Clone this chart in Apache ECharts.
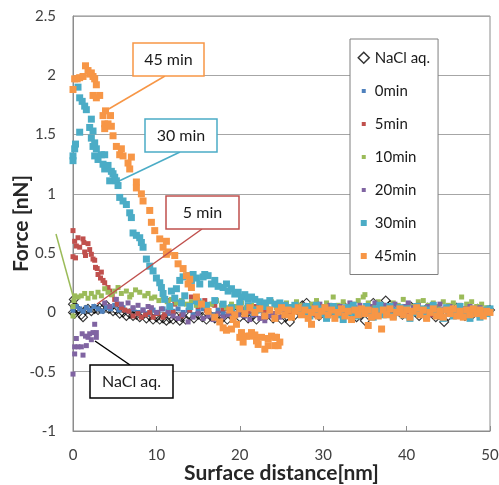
<!DOCTYPE html>
<html>
<head>
<meta charset="utf-8">
<script src="https://cdn.jsdelivr.net/npm/echarts@6/dist/echarts.min.js"></script>
<style>
html,body{margin:0;padding:0;background:#fff;}
#chart{width:499px;height:485px;}
</style>
</head>
<body>
<div id="chart"></div>
<script>
// ---- data (x: surface distance [nm], y: force [nN]) ----
const seriesNames = ['NaCl aq.', '0min', '5min', '10min', '20min', '30min', '45min'];

const naclData = [
[0,0.07],[0,0.0],[0.1,0.11],[0.2,-0.01],[0.3,0.04],[0.6,0.02],[1.0,-0.02],[1.2,-0.04],[1.5,0.02],[1.8,0.03],
[2.2,0.01],[2.6,0.03],[3.0,0.02],[3.2,0.04],[3.6,0.03],[4.0,0.06],[4.3,0.03],[4.8,0.01],[5.2,0.02],[5.6,-0.01],
[6.0,0.0],[6.4,-0.03],[6.8,-0.01],[7.2,-0.03],[7.6,-0.02],[8.0,-0.04],[8.4,-0.02],[8.8,-0.05],[9.2,-0.03],[9.6,-0.06],
[10.0,-0.04],[10.4,-0.06],[10.8,-0.05],[11.2,-0.07],[11.6,-0.05],[12.0,-0.06],[12.4,-0.04],[12.8,-0.07],
[13.0,-0.04],[13.5,-0.06],[14,-0.03],[14.5,-0.05],[15,-0.02],[15.5,-0.04],[16,-0.06],[16.5,-0.03],[17,-0.05],[17.5,-0.02],
[18,-0.04],[18.5,-0.06],[19,-0.03],[19.5,-0.01],[20,-0.04],[20.5,-0.02],[21,-0.05],[21.5,-0.03],[22,-0.06],[22.5,-0.02],
[23,-0.04],[23.5,-0.01],[24,-0.05],[24.5,-0.03],[25,-0.06],[25.5,-0.04],[26,-0.08],[26.5,-0.03],[27,0.02],[27.5,0.06],
[28,0.08],[28.5,0.03],[29,0.0],[29.5,-0.03],[30,0.01],[30.5,0.04],[31,0.02],[31.5,-0.02],[32,0.01],[32.5,0.05],
[33,0.02],[33.5,-0.01],[34,-0.04],[34.5,-0.02],[35,-0.07],[35.5,0.03],[36,0.08],[36.5,0.05],[37,0.02],[37.5,0.1],
[38,0.06],[38.5,0.03],[39,0.01],[39.5,-0.02],[40,0.02],[40.5,0.05],[41,0.01],[41.5,-0.03],[42,0.0],[42.5,0.04],
[43,0.01],[43.5,-0.04],[44,-0.02],[44.5,-0.08],[45,-0.03],[45.5,0.01],[46,0.04],[46.5,0.0],[47,-0.03],[47.5,0.02],
[48,-0.01],[48.5,0.03],[49,-0.02],[49.5,0.01],[50,0.02]
];

const min0Data = [
[0,0.02],[0.4,0.05],[0.8,0.03],[1.2,0.01],[1.6,0.04],[2.0,0.02],[2.5,0.05],[3.0,0.03],[3.5,0.01],[4.0,0.04],
[4.5,0.03],[5.0,0.06],[5.5,0.02],[6.0,0.04],[6.6,0.01],[7.2,0.03],[7.8,0.0],[8.4,0.02],[9.0,-0.01],[9.6,0.02],
[10.2,0.0],[10.8,0.03],[11.4,-0.01],[12.0,0.01],[12.6,0.03],[13.2,0.0],[13.8,0.02],[14.4,-0.02],[15.0,0.01],[15.6,0.03],
[16.2,0.0],[16.8,-0.02],[17.4,0.02],[18.0,0.0],[18.6,0.03],[19.2,-0.01],[19.8,0.01],[20.4,0.03],[21.0,0.0],[21.6,-0.02],
[22.2,0.02],[22.8,0.0],[23.4,0.03],[24.0,-0.01],[24.6,0.01],[25.2,0.03],[25.8,-0.02],[26.4,0.01],[27.0,0.03],[27.6,0.0],
[28.2,-0.02],[28.8,0.02],[29.4,0.04],[30.0,0.0],[30.6,-0.03],[31.2,0.01],[31.8,0.03],[32.4,-0.01],[33.0,0.02],[33.6,0.0],
[34.2,-0.03],[34.8,0.02],[35.4,0.04],[36.0,0.0],[36.6,-0.02],[37.2,0.02],[37.8,0.0],[38.4,0.03],[39.0,-0.01],[39.6,0.01],
[40.2,-0.03],[40.8,0.02],[41.4,0.0],[42.0,0.03],[42.6,-0.02],[43.2,0.01],[43.8,-0.01],[44.4,0.02],[45.0,0.0],[45.6,-0.03],
[46.2,0.01],[46.8,0.03],[47.4,-0.01],[48.0,0.02],[48.6,-0.02],[49.2,0.01],[49.8,0.0]
];

const min5Data = [
[0,0.69],[0,0.47],[0.2,0.6],[0.3,0.46],[0.4,0.56],[0.6,0.63],[0.8,0.55],[1.2,0.62],[1.3,0.59],[1.4,0.51],
[1.5,0.48],[1.8,0.58],[2.0,0.53],[2.2,0.49],[2.4,0.45],[2.6,0.44],[2.7,0.38],[2.9,0.37],[3.0,0.32],[3.3,0.29],
[3.4,0.34],[3.6,0.27],[3.8,0.25],[4.2,0.21],[4.4,0.18],[4.7,0.15],[5.0,0.11],[5.3,0.07],[5.8,0.04],[6.2,0.02],
[6.7,0.01],[7.2,-0.03],[7.8,-0.01],[8.2,-0.04],[8.7,-0.02],[9.2,0.0],[9.6,-0.04],[10.1,-0.01],[10.8,-0.04],
[11.4,0.1],[12.2,0.07],[14.2,0.13],[15.8,0.1],[16.8,0.07],
[11.0,-0.02],[12.0,0.0],[13.0,-0.03],[14.0,0.02],[15.0,0.05],[16.0,0.02],[17.0,0.06],[18.0,0.03],[19.0,0.0],[20.0,0.04],
[21.0,0.01],[22.0,0.05],[23.0,0.02],[24.0,-0.01],[25.0,0.03],[26,0.0],[27,0.04],[28,0.01],[29,-0.02],[30,0.03],
[31,0.0],[32,0.04],[33,0.01],[34,-0.02],[35,0.02],[36,0.05],[37,0.01],[38,-0.01],[39,0.03],[40,0.0],
[41,0.04],[42,0.01],[43,-0.02],[44,0.02],[45,0.05],[46,0.0],[47,0.03],[48,-0.01],[49,0.02],[50,0.0]
];

const min10Data = [
[0,-0.03],[0,0.05],[0.1,0.1],[0.2,0.14],[0.6,0.13],[1.0,0.14],[1.4,0.16],[1.8,0.12],[2.2,0.16],[2.6,0.13],
[3.0,0.17],[3.4,0.14],[3.8,0.2],[4.2,0.17],[4.6,0.15],[5.0,0.18],[5.4,0.21],[5.8,0.16],[6.4,0.18],[6.8,0.13],
[7.0,0.15],[7.5,0.19],[8.0,0.17],[8.6,0.14],[9.0,0.16],[9.4,0.12],[9.8,0.13],[10.3,0.1],[10.8,0.13],[11.3,0.09],
[11.8,0.11],[12.4,0.08],[13.0,0.1],[13.6,0.07],[14.2,0.09],[14.8,0.06],[15.4,0.08],[16.0,0.05],[16.6,0.07],[17.2,0.1],
[17.8,0.06],[18.4,0.04],[19.0,0.07],[19.6,0.05],[20.2,0.08],[20.8,0.04],[21.4,0.06],[22.0,0.03],[22.6,0.07],[23.2,0.05],
[23.8,0.09],[24.4,0.04],[25.0,0.06],[25.6,0.08],[26.2,0.05],[26.8,0.09],[27.4,0.06],[28.0,0.04],[28.6,0.07],[29.2,0.1],
[29.8,0.05],[30.4,0.08],[31.2,0.13],[31.8,0.06],[32.4,0.09],[33.0,0.05],[33.6,0.07],[34.2,0.1],[34.8,0.13],[35.0,0.15],
[35.4,0.08],[36.0,0.05],[36.6,0.09],[37.2,0.06],[37.8,0.04],[38.4,0.08],[39.0,0.06],[39.6,0.11],[40.2,0.07],[40.8,0.05],
[41.4,0.09],[42.0,0.1],[42.6,0.06],[43.2,0.08],[43.8,0.05],[44.4,0.09],[45.0,0.06],[45.6,0.08],[46.2,0.05],[46.6,0.13],
[47.2,0.07],[47.8,0.09],[48.4,0.05],[49.0,0.07],[49.6,0.04]
];

const min20Data = [
[0,-0.52],[0.2,-0.35],[0.2,-0.29],[0.4,-0.22],[0.6,-0.29],[1.0,-0.29],[1.1,-0.18],[1.2,-0.36],[1.5,-0.2],[1.6,-0.28],
[1.8,-0.21],[2.0,-0.18],[2.2,-0.23],[2.4,-0.17],[2.6,-0.1],[2.8,-0.17],[2.8,-0.21],
[3.8,0.08],[4.4,0.05],[5.2,0.11],[5.8,0.07],[6.6,0.08],[7.2,0.04],[7.8,0.06],[8.4,0.02],[9.0,0.05],[9.4,0.04],
[10.0,0.0],[10.6,0.03],[11.4,0.01],[12.0,-0.03],[12.6,-0.05],[13.2,-0.02],[13.8,-0.08],[14.4,-0.04],[15.0,-0.01],[15.6,-0.05],
[16.2,-0.03],[16.8,-0.06],[17.4,-0.01],[18.0,-0.04],[18.6,-0.02],[19.2,-0.05],[19.8,-0.02],[20.6,-0.03],[21.2,-0.06],[21.8,-0.02],
[22.4,-0.05],[23.0,-0.07],[23.6,-0.03],[24.2,-0.01],[24.8,-0.04],[25.4,0.0],[26.0,0.03],[26.6,0.05],[27.2,0.02],[27.8,0.06],
[28.4,0.03],[29.0,0.05],[29.6,0.07],[30.2,0.03],[30.8,0.06],[31.4,0.02],[32.0,0.05],[32.6,0.03],[33.2,0.08],[33.8,0.04],
[34.4,0.06],[35.0,0.02],[35.6,0.05],[36.2,0.08],[36.8,0.03],[37.4,0.06],[38.0,0.04],[38.6,0.07],[39.2,0.03],[39.8,0.05],
[40.2,0.08],[40.8,0.04],[41.4,0.06],[42.0,0.02],[42.6,0.05],[43.4,0.04],[44.0,0.07],[44.6,0.03],[45.2,0.05],[45.8,0.02],
[46.4,0.06],[47.0,0.03],[47.6,0.05],[48.2,0.02],[48.8,0.04],[49.4,0.01],[50.0,0.03]
];

const min30Data = [
[0,1.28],[0,1.32],[0.2,1.38],[0.3,1.42],[0.6,1.9],[0.8,1.81],[0.8,1.52],[1.1,1.78],[1.4,1.74],[1.6,1.71],
[2.0,1.56],[2.2,1.63],[2.2,1.47],[2.4,1.53],[2.4,1.4],[2.6,1.43],[2.6,1.32],[2.8,1.38],[3.0,1.29],[3.4,1.33],
[3.6,1.25],[3.8,1.33],[3.8,1.21],[4.2,1.24],[4.4,1.11],[4.6,1.19],[4.8,1.17],[5.0,1.14],[5.2,1.11],[5.4,1.07],
[5.6,0.97],[6.0,0.94],[6.4,0.91],[6.8,0.84],[7.0,0.8],[7.2,0.67],[7.6,0.65],[8.0,0.63],[8.2,0.59],[8.4,0.55],
[8.8,0.45],[9.2,0.39],[9.6,0.35],[10.0,0.29],[10.4,0.25],[10.6,0.21],[10.8,0.16],[11.0,0.11],
[11.8,0.18],[12.4,0.2],[12.8,0.27],[13.2,0.3],[13.4,0.14],[13.8,0.31],[14.2,0.27],[14.4,0.32],[14.8,0.29],[14.8,0.1],
[15.2,0.24],[15.6,0.3],[15.8,0.32],[16.2,0.31],[16.6,0.24],[17.0,0.27],[17.4,0.22],[18.0,0.21],[18.4,0.24],[18.6,0.18],
[19.0,0.2],[19.4,0.155],[19.8,0.17],[20.2,0.13],[20.6,0.15],[21.0,0.11],[21.4,0.13],[21.8,0.11],[22.4,0.09],[23.0,0.08],
[23.6,0.1],[24.2,0.07],[24.8,0.08],[25.4,0.06],[26.0,0.04],[26.6,0.06],[27.2,0.03],
[11.6,0.05],[12.2,0.12],[13.0,0.08],[14.0,0.05],[15.0,0.09],[16.0,0.06],[17.0,0.1],[18.0,0.07],[19.0,0.04],[20.0,0.08],
[21.0,0.05],[22.0,0.02],[23.0,0.05],
[27.6,0.0],[28.0,0.05],[28.4,-0.03],[28.8,0.02],[29.2,0.06],[29.6,-0.01],[30.0,0.03],[30.4,-0.05],[30.8,0.01],[31.2,0.05],
[31.6,-0.02],[32.0,0.02],[32.4,-0.06],[32.8,0.04],[33.2,0.0],[33.6,0.06],[34.0,-0.03],[34.4,0.02],[34.8,-0.01],[35.2,0.05],
[35.6,0.0],[36.0,-0.04],[36.4,0.03],[36.8,0.06],[37.2,-0.02],[37.6,0.02],[38.0,0.05],[38.4,-0.03],[38.8,0.01],[39.2,0.04],
[39.6,-0.02],[40.0,0.03],[40.4,-0.05],[40.8,0.0],[41.2,0.05],[41.6,-0.01],[42.0,0.03],[42.4,-0.04],[42.8,0.02],[43.2,0.06],
[43.6,-0.02],[44.0,0.01],[44.4,-0.05],[44.8,0.04],[45.2,0.0],[45.6,-0.03],[46.0,0.02],[46.4,0.05],[46.8,-0.02],[47.2,0.01],
[47.6,-0.05],[48.0,0.03],[48.4,0.0],[48.8,-0.04],[49.2,0.02],[49.6,-0.01],[50.0,0.03]
];

const min45Data = [
[0,1.88],[0.2,1.97],[0.5,1.97],[0.8,1.98],[1.2,1.99],[1.5,2.08],[1.8,2.04],[2.0,2.01],[2.2,2.02],[2.4,1.99],
[2.6,1.97],[2.8,1.92],[2.4,1.83],[2.8,1.81],[3.2,1.83],[3.6,1.66],[3.9,1.7],[4.5,1.66],[3.8,1.59],[4.2,1.59],
[3.8,1.55],[4.6,1.57],[4.8,1.49],[5.2,1.4],[5.6,1.33],[5.8,1.38],[6.0,1.32],[6.6,1.26],[7.0,1.31],[6.8,1.21],
[7.6,1.1],[7.6,1.05],[8.2,1.0],[8.4,0.94],[9.2,0.86],[9.4,0.76],[9.8,0.69],[10.4,0.62],[10.8,0.55],[11.2,0.6],
[11.2,0.49],[11.4,0.51],[12.2,0.48],[12.6,0.41],[13.2,0.37],[13.6,0.31],[14.0,0.28],[13.8,0.24],[14.2,0.21],[14.8,0.13],
[15.4,0.07],[16.2,0.01],[17.0,-0.04],[17.6,-0.08],[18.0,-0.13],[18.4,-0.15],[19.0,-0.14],[19.2,-0.06],[19.6,-0.1],
[20.0,-0.21],[20.2,-0.17],[20.4,-0.25],[20.8,-0.2],[21.2,-0.2],[21.4,-0.17],[21.8,-0.19],[22.0,-0.24],[22.2,-0.27],[22.6,-0.21],
[23.0,-0.31],[23.4,-0.28],[23.4,-0.22],[23.8,-0.2],[24.2,-0.28],[24.2,-0.21],[24.6,-0.28],[24.4,-0.21],[24.8,-0.25],
[18.8,0.02],[19.4,-0.02],[20.0,0.03],[20.6,-0.01],[21.2,0.04],[21.8,0.0],[22.4,0.03],[23.0,-0.03],[23.6,0.02],[24.2,-0.05],
[24.6,0.01],[25.0,0.04],[25.4,-0.02],[25.8,0.02],[26.2,-0.04],[26.6,0.01],[27.0,0.04],[27.4,-0.02],[27.8,0.02],[28.2,-0.05],
[28.6,0.0],[28.6,-0.1],[29.0,0.03],[29.4,-0.03],[29.8,0.01],[30.2,0.04],[30.6,-0.02],[31.0,0.02],[31.4,-0.05],[31.8,0.0],
[32.2,0.03],[32.6,-0.03],[33.0,0.01],[33.4,-0.06],[33.8,0.02],[34.2,-0.02],[34.6,0.03],[35.0,-0.01],[35.4,0.02],[35.4,-0.11],
[35.8,-0.04],[36.2,0.01],[36.6,-0.03],[37.0,-0.14],[37.2,0.02],[37.6,-0.02],[38.0,0.03],[38.4,-0.04],[38.8,0.0],[39.2,0.03],
[39.6,-0.02],[40.0,0.02],[40.4,-0.04],[40.8,0.01],[41.2,0.04],[41.6,-0.02],[42.0,0.02],[42.4,-0.05],[42.8,0.0],[43.2,0.03],
[43.6,-0.03],[44.0,0.01],[44.4,-0.04],[44.8,0.02],[45.2,-0.01],[45.6,0.03],[46.0,-0.03],[46.4,0.01],[46.8,-0.04],[47.2,0.02],
[47.6,-0.02],[48.0,0.03],[48.4,-0.01],[48.8,0.02],[49.2,-0.03],[49.6,0.01],[50.0,0.0]
];

const seriesData = [naclData, min0Data, min5Data, min10Data, min20Data, min30Data, min45Data];
const seriesColors = ['#000000', '#4F81BD', '#C0504D', '#9BBB59', '#8064A2', '#4BACC6', '#F79646'];
const markerSizes = [9, 5, 5, 5, 5, 7, 7];

const FONT = 'Lato, "Open Sans", sans-serif';

const chart = echarts.init(document.getElementById('chart'), null, {renderer: 'canvas'});

const series = seriesNames.map((name, i) => {
  const isNacl = i === 0;
  return {
    name: name,
    type: 'scatter',
    data: seriesData[i],
    symbol: isNacl ? 'diamond' : 'rect',
    symbolSize: markerSizes[i],
    itemStyle: isNacl
      ? {color: 'rgba(255,255,255,0)', borderColor: '#000', borderWidth: 1.1}
      : {color: seriesColors[i], opacity: 1},
    emphasis: {disabled: true},
    z: 2 + i
  };
});

const smallSq = 'path://M0,0 M12,14 M4,5 L8,5 L8,9 L4,9 Z';
const bigSq = 'path://M0,0 M12,14 M3,4 L9,4 L9,10 L3,10 Z';
const diamondIcon = 'path://M0,0 M12,14 M6,1.5 L11.5,7 L6,12.5 L0.5,7 Z';

const legendData = seriesNames.map((name, i) => {
  if (i === 0) {
    return {name: name, icon: diamondIcon,
      itemStyle: {color: '#fff', borderColor: '#000', borderWidth: 1.5}};
  }
  return {name: name, icon: i >= 5 ? bigSq : smallSq,
    itemStyle: {color: seriesColors[i], borderWidth: 0}};
});

const option = {
  animation: false,
  backgroundColor: '#ffffff',
  grid: {left: 73, right: 9, top: 16, bottom: 54, show: true,
    containLabel: false, outerBoundsMode: 'none',
    borderColor: '#8c8c8c', borderWidth: 1, backgroundColor: 'transparent'},
  xAxis: {
    type: 'value', min: 0, max: 50, interval: 10,
    axisLine: {show: true, onZero: false, lineStyle: {color: '#8c8c8c', width: 1}},
    axisTick: {show: true, inside: true, length: 5, lineStyle: {color: '#8c8c8c'}},
    splitLine: {show: false},
    axisLabel: {fontSize: 15, color: '#404040', margin: 17, fontFamily: FONT},
    name: 'Surface distance[nm]', nameLocation: 'middle', nameGap: 32, nameMoveOverlap: false,
    nameTextStyle: {fontSize: 21, fontWeight: 'bold', color: '#262626', fontFamily: FONT}
  },
  yAxis: {
    type: 'value', min: -1, max: 2.5, interval: 0.5,
    axisLine: {show: true, onZero: false, lineStyle: {color: '#8c8c8c', width: 1}},
    axisTick: {show: false},
    splitLine: {show: true, lineStyle: {color: '#a6a6a6', width: 1}},
    axisLabel: {fontSize: 15, color: '#404040', margin: 17, fontFamily: FONT},
    name: 'Force [nN]', nameLocation: 'middle', nameGap: 41, nameRotate: 90, nameMoveOverlap: false,
    nameTextStyle: {fontSize: 21, fontWeight: 'bold', color: '#262626', fontFamily: FONT}
  },
  legend: {
    orient: 'vertical', left: 350, top: 39,
    padding: [11, 8, 11, 7], itemGap: 18, itemWidth: 12, itemHeight: 14,
    backgroundColor: '#ffffff', borderColor: '#7f7f7f', borderWidth: 1,
    selectedMode: false,
    textStyle: {fontSize: 15, color: '#1a1a1a', fontFamily: FONT, lineHeight: 14},
    data: legendData
  },
  series: series
};

chart.setOption(option);

// ---- annotation call-outs (boxes + leader lines) ----
function callout(text, color, box, from, to) {
  return [
    {type: 'line', z: 100, shape: {x1: from[0], y1: from[1], x2: to[0], y2: to[1]},
      style: {stroke: color, lineWidth: 1.5}},
    {type: 'rect', z: 101, shape: {x: box[0], y: box[1], width: box[2], height: box[3]},
      style: {fill: '#ffffff', stroke: color, lineWidth: 1.5}},
    {type: 'text', z: 102, x: box[0] + box[2] / 2, y: box[1] + box[3] / 2,
      style: {text: text, fill: '#1a1a1a', font: '16px ' + FONT, align: 'center', verticalAlign: 'middle'}}
  ];
}

const graphics = []
  .concat(callout('45 min', '#F79646', [133, 43, 71, 33], [165, 76], [107, 110]))
  .concat(callout('30 min', '#4BACC6', [145, 119, 72, 33], [180, 152], [117, 182]))
  .concat(callout('5 min', '#C0504D', [166, 196, 73, 33], [202, 229], [97, 304]))
  .concat(callout('NaCl aq.', '#000000', [90, 365, 83, 33], [130, 365], [95, 341]));
graphics.push({type: 'line', z: 100, shape: {x1: 56, y1: 234, x2: 73, y2: 296},
  style: {stroke: '#9BBB59', lineWidth: 1.5}});

chart.setOption({graphic: graphics});
</script>
</body>
</html>
